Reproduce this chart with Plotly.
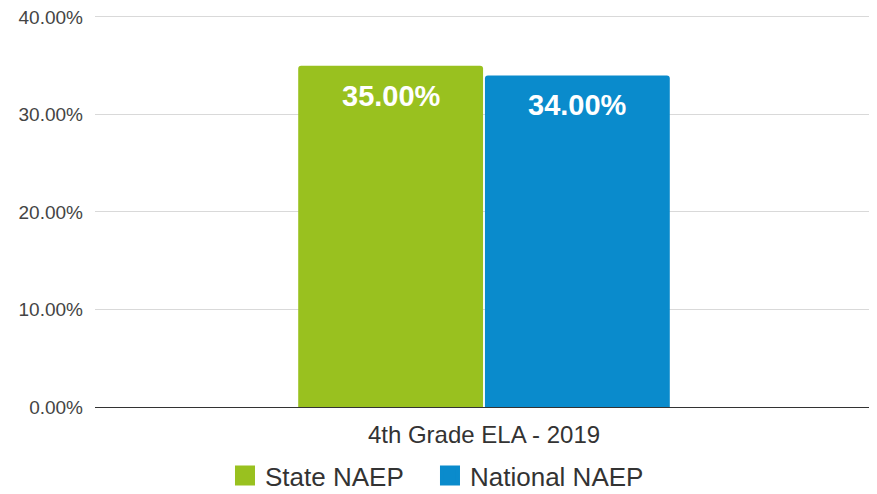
import plotly.graph_objects as go

categories = ["4th Grade ELA - 2019"]
series_names = ["State NAEP", "National NAEP"]
state_values = [0.35]
national_values = [0.34]
colors = ["#99C11F", "#0A8BCC"]
tick_values = [0, 0.1, 0.2, 0.3, 0.4]
tick_labels = ["0.00%", "10.00%", "20.00%", "30.00%", "40.00%"]

FONT = "Liberation Sans, Arial, sans-serif"

fig = go.Figure()
series = [state_values, national_values]
legend_ids = ["legend", "legend2"]
for name, vals, col, lg in zip(series_names, series, colors, legend_ids):
    fig.add_trace(go.Bar(
        x=categories, y=vals, name=name, marker=dict(color=col, line=dict(width=0)),
        showlegend=False, hoverinfo="y",
    ))
    # legend-only proxy with bigger squares
    fig.add_trace(go.Scatter(
        x=[None], y=[None], mode="markers", name=name, legend=lg,
        marker=dict(symbol="square", size=16, color=col, line=dict(color=col, width=4)),
        showlegend=True,
    ))

# value labels inside bars near the top
shifts = [-93, 93]
for vals, sh in zip(series, shifts):
    for c, v in zip(categories, vals):
        fig.add_annotation(
            x=c, y=v, xshift=sh, yshift=-12, yanchor="top", showarrow=False,
            text=f"<b>{v:.2%}</b>", font=dict(family=FONT, size=29, color="white"),
        )

legend_common = dict(
    orientation="h", xref="container", yref="paper",
    xanchor="left", y=-0.174, yanchor="middle",
    font=dict(family=FONT, size=26, color="#333333"),
    itemsizing="trace", itemwidth=30, bgcolor="rgba(0,0,0,0)",
)

fig.update_layout(
    width=869, height=486,
    margin=dict(l=87, r=4, t=5, b=87, autoexpand=False),
    paper_bgcolor="white", plot_bgcolor="white",
    barmode="group", bargap=0.52, bargroupgap=0.01, barcornerradius=3,
    font=dict(family=FONT, color="#444444"),
    showlegend=True,
    legend=dict(x=0.2497, **legend_common),
    legend2=dict(x=0.4856, **legend_common),
)
fig.update_yaxes(
    range=[0, 0.404], tickvals=tick_values, ticktext=tick_labels,
    showgrid=True, gridcolor="#D9D9D9", gridwidth=1,
    zeroline=False, showline=False, ticks="",
    tickfont=dict(family=FONT, size=19, color="#444444"),
    ticklabelstandoff=11, automargin=False, ticklabeloverflow="allow",
)
fig.update_xaxes(
    showline=True, linecolor="#333333", linewidth=1, ticks="",
    tickfont=dict(family=FONT, size=24, color="#333333"),
    ticklabelstandoff=6, automargin=False,
)

fig.write_html("out.html")
